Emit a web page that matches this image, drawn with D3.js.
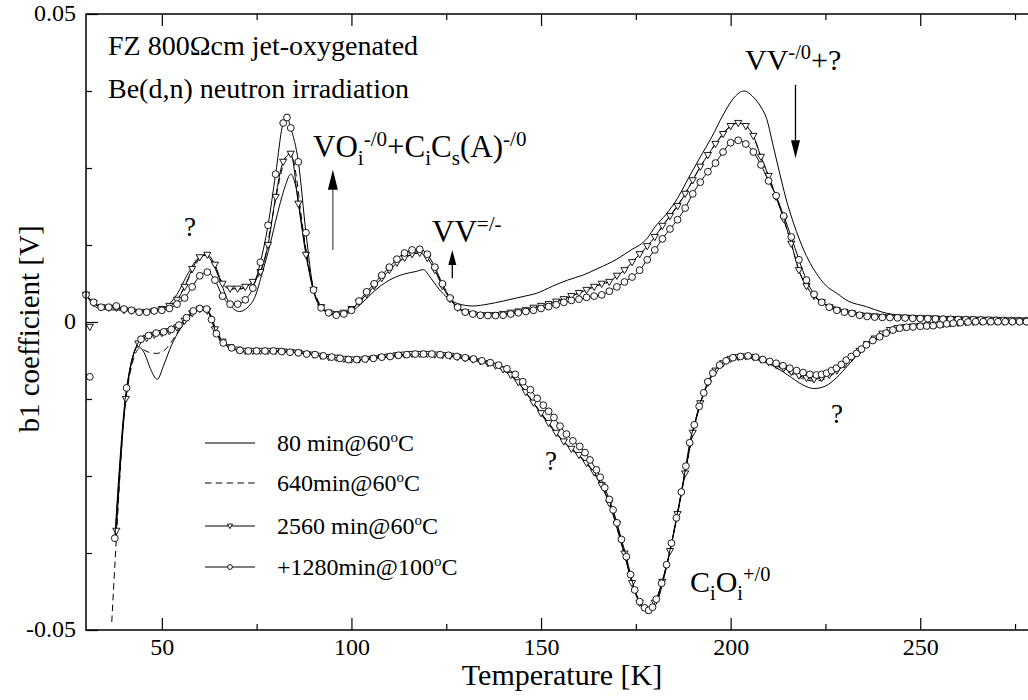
<!DOCTYPE html>
<html>
<head>
<meta charset="utf-8">
<script src="https://cdn.jsdelivr.net/npm/d3@7"></script>
<style>
  body { margin: 0; background: #fff; }
  svg { display: block; font-family: "Liberation Serif", "Times New Roman", serif; }
</style>
</head>
<body>
<svg id="chart" width="1028" height="700"></svg>
<script>
// values are in units of 1e-3 V (b1 coefficient), temperature in K
// +1280min@100C (circles)
var circUpper = [[30,4.4],[32,3.2],[34,2.4],[36,2.4],[38,2.6],[40,2.1],[42,1.9],[44,1.6],[46,1.6],[48,1.8],[50,1.9],[52,2.2],[54,2.9],[56,3.9],[58,5.7],[60,7.5],[62,8.1],[64,6.8],[66,4.2],[68,2.9],[70,2.9],[72,3.6],[74,5.5],[76,9.7],[78,15.7],[80,24.0],[82,32.3],[83,33.2],[84,31.5],[86,26.0],[88,14.5],[90,5.2],[92,2.3],[94,1.5],[96,1.1],[98,1.3],[100,1.9],[102,3.4],[104,4.9],[106,6.2],[108,7.6],[110,8.9],[112,10.2],[114,11.2],[116,11.7],[118,11.8],[120,11.0],[122,8.9],[124,6.2],[126,3.9],[128,2.4],[130,1.6],[132,1.3],[134,1.1],[136,1.05],[138,1.05],[140,1.1],[142,1.3],[144,1.5],[146,1.7],[148,1.9],[150,2.2],[152,2.5],[154,2.8],[156,3.2],[158,3.5],[160,3.7],[162,4.0],[164,4.2],[166,4.4],[168,5.0],[170,5.7],[172,6.5],[174,7.3],[176,8.4],[178,10.1],[180,11.7],[182,13.5],[184,15.1],[186,16.6],[188,18.5],[190,20.8],[192,22.7],[194,24.4],[196,25.8],[198,27.6],[200,29.1],[202,29.5],[204,28.9],[206,27.6],[208,25.5],[210,22.9],[212,20.5],[214,17.2],[216,13.8],[218,10.1],[220,6.8],[222,4.5],[224,3.2],[226,2.4],[228,1.9],[230,1.6],[232,1.4],[234,1.1],[236,0.9],[238,0.8],[240,0.75],[242,0.72],[244,0.68],[246,0.65],[248,0.6],[250,0.57],[252,0.54],[254,0.5],[256,0.46],[258,0.44],[260,0.4],[262,0.38],[264,0.36],[266,0.33],[268,0.3],[270,0.28],[272,0.26],[274,0.24],[276,0.22],[278,0.2],[280,0.2]];
var circLower = [[37.6,-35.1],[40.7,-10.7],[44.5,-2.8],[46.5,-2.2],[48.5,-1.8],[50.5,-1.6],[52.5,-1.2],[54.5,-0.5],[56.5,0.7],[58.3,1.8],[60,2.2],[61.8,2.1],[63.1,0.4],[64.4,-1.9],[66.2,-3.4],[68.4,-4.2],[70.6,-4.6],[72.8,-4.7],[75,-4.7],[77.2,-4.7],[79.4,-4.7],[81.6,-4.8],[83.8,-4.9],[86,-5.0],[88.2,-5.2],[90.4,-5.3],[92.6,-5.5],[94.8,-5.7],[97,-5.9],[99.2,-6.1],[101.4,-6.1],[103.6,-6.0],[105.8,-5.9],[108,-5.7],[110.2,-5.6],[112.4,-5.4],[114.6,-5.3],[116.8,-5.2],[119,-5.2],[121.2,-5.2],[123.4,-5.3],[125.6,-5.4],[127.8,-5.6],[130,-5.8],[132.2,-6.0],[134.4,-6.3],[136.6,-6.6],[138.8,-7.0],[141,-7.6],[143.2,-8.5],[145.2,-9.7],[147.2,-11.0],[149,-12.4],[150.6,-13.5],[152,-14.5],[153.4,-15.5],[155,-16.9],[156.7,-18.2],[158.4,-19.3],[160.2,-20.2],[161.6,-21.2],[162.9,-22.4],[164.6,-24.0],[165.6,-25.2],[166.8,-26.9],[168,-28.8],[169,-30.5],[170,-32.6],[171.2,-35.3],[172.5,-38.1],[173.6,-41.0],[174.7,-43.5],[176,-45.4],[177.3,-46.4],[178.4,-46.8],[179.4,-46.3],[180.4,-45.0],[181.8,-42.4],[183.1,-39.4],[184.4,-35.9],[185.7,-31.8],[187,-27.6],[188.2,-23.4],[189.2,-19.6],[190.4,-16.7],[191.7,-13.7],[192.9,-11.5],[194,-9.7],[195.3,-8.3],[197.1,-7.0],[198.8,-6.3],[200.6,-5.8],[202.6,-5.6],[204.6,-5.5],[206.6,-5.7],[208.5,-6.1],[210.3,-6.4],[212,-6.7],[213.8,-7.1],[215.6,-7.5],[217.4,-7.9],[219.1,-8.2],[220.9,-8.5],[222.6,-8.6],[224,-8.5],[225.3,-8.3],[226.6,-7.9],[227.9,-7.5],[229.2,-6.9],[230.5,-6.2],[231.8,-5.6],[233.2,-5.1],[234.5,-4.4],[235.8,-3.7],[237.5,-3.0],[239.3,-2.4],[241,-1.8],[242.8,-1.3],[244.6,-1.0],[246.4,-0.85],[248.1,-0.8],[250,-0.7],[251.7,-0.65],[253.4,-0.6],[255.2,-0.45],[257,-0.3],[258.7,-0.2],[260.6,-0.1],[262.6,0],[264.6,0.05],[266.6,0.05],[268.6,0.05],[270.5,0.05],[272.4,0.05],[274.3,0.05],[276.2,0.05],[278,0.05],[280,0.05]];

// 2560 min@60C (triangles)
var triUpper = [[30,4.4],[32,3.1],[34,2.4],[36,2.3],[38,2.3],[40,1.9],[42,1.8],[44,1.6],[46,1.6],[48,1.8],[50,2.1],[52,2.6],[54,3.6],[56,5.7],[58,8.6],[60,10.5],[62,10.9],[64,9.3],[66,6.2],[68,5.4],[70,5.4],[72,5.7],[74,6.5],[76,8.1],[78,12.5],[80,20.3],[82,26.0],[84,27.3],[86,19.2],[88,10.9],[90,5.2],[92,2.4],[94,1.5],[96,1.3],[98,1.5],[100,2.1],[102,3.2],[104,4.5],[106,5.8],[108,7.1],[110,8.4],[112,9.6],[114,10.4],[116,11.0],[118,11.2],[120,10.4],[122,8.4],[124,5.8],[126,3.7],[128,2.3],[130,1.6],[132,1.3],[134,1.1],[136,1.1],[138,1.1],[140,1.3],[142,1.5],[144,1.7],[146,1.9],[148,2.3],[150,2.6],[152,2.9],[154,3.3],[156,3.7],[158,4.2],[160,4.7],[162,5.2],[164,5.7],[166,6.2],[168,6.5],[170,7.5],[172,8.4],[174,9.7],[176,11.0],[178,12.3],[180,13.8],[182,15.6],[184,17.2],[186,18.8],[188,20.8],[190,23.0],[192,25.2],[194,27.1],[196,28.9],[198,30.5],[200,31.8],[202,32.3],[204,31.8],[206,30.2],[208,26.8],[210,23.7],[212,20.3],[214,16.7],[216,12.7],[218,8.4],[220,5.8],[222,4.2],[224,3.2],[226,2.4],[228,1.9],[230,1.6],[232,1.4],[234,1.1],[236,1.0],[238,0.9],[240,0.8],[242,0.75],[244,0.72],[246,0.7],[248,0.65],[250,0.62],[252,0.58],[254,0.55],[256,0.5],[258,0.47],[260,0.44],[262,0.42],[264,0.4],[266,0.37],[268,0.35],[270,0.33],[272,0.3],[274,0.28],[276,0.26],[278,0.25],[280,0.25]];
var triLower = [[38,-33.9],[40.5,-12.5],[43.8,-3.5],[46,-2.6],[48,-2.1],[50,-1.8],[52,-1.5],[54,-0.9],[56,0.2],[58,1.4],[60,2.1],[62,1.8],[64,-1.2],[66,-3.2],[68,-4.1],[70,-4.5],[72,-4.7],[74,-4.7],[76,-4.7],[78,-4.7],[80,-4.7],[82,-4.8],[84,-4.9],[86,-5.0],[88,-5.2],[90,-5.3],[92,-5.5],[94,-5.7],[96,-5.8],[98,-6.0],[100,-6.1],[102,-6.1],[104,-6.0],[106,-5.9],[108,-5.7],[110,-5.6],[112,-5.4],[114,-5.3],[116,-5.2],[118,-5.2],[120,-5.2],[122,-5.3],[124,-5.4],[126,-5.5],[128,-5.7],[130,-5.9],[132,-6.1],[134,-6.4],[136,-6.7],[138,-7.1],[140,-7.7],[142,-8.6],[144,-9.8],[146,-11.4],[148,-13.1],[150,-14.8],[152,-16.4],[154,-18.0],[156,-19.4],[158,-20.6],[160,-21.6],[162,-22.9],[164,-24.4],[166,-26.5],[168,-29.4],[170,-32.8],[172,-37.6],[174,-42.4],[176,-45.6],[178,-46.8],[180,-45.6],[182,-42.2],[184,-37.2],[186,-31.2],[188,-24.6],[190,-18.0],[192,-13.2],[194,-9.9],[196,-7.9],[198,-6.7],[200,-6.0],[202,-5.7],[204,-5.6],[206,-5.7],[208,-6.1],[210,-6.5],[212,-7.0],[214,-7.5],[216,-8.1],[218,-8.7],[220,-9.1],[222,-9.3],[224,-9.1],[226,-8.6],[228,-7.9],[230,-6.9],[232,-5.8],[234,-4.7],[236,-3.6],[238,-2.7],[240,-1.9],[242,-1.3],[244,-1.0],[246,-0.85],[248,-0.75],[250,-0.65],[252,-0.55],[254,-0.45],[256,-0.35],[258,-0.25],[260,-0.15],[262,-0.05],[264,0],[266,0.05],[268,0.05],[270,0.05],[272,0.05],[274,0.05],[276,0.05],[278,0.05],[280,0.05]];

// 80 min@60C (solid line)
var solidUpper = [[30,4.4],[33,2.3],[36,2.0],[40,1.9],[44,1.7],[48,1.8],[51,2.4],[54,4.5],[57,8.0],[59.5,10.3],[61.5,10.8],[63.5,9.5],[65.5,6.5],[68,2.8],[70.5,1.7],[72.5,2.3],[74.5,4.0],[76.5,8.0],[78.5,12.5],[80.5,17.6],[82.5,22.0],[84,24.0],[85.5,21.5],[87,15.5],[88.5,9.5],[90,5.0],[92,2.4],[94,1.5],[96,1.3],[98,1.3],[100,1.7],[103,3.2],[106,5.0],[110,6.8],[114,7.8],[117,8.2],[119,8.5],[120.5,7.5],[122.5,5.8],[125,4.1],[128,3.0],[132,2.6],[136,2.9],[140,3.4],[145,4.1],[149,4.7],[153,5.8],[157,6.8],[161,7.6],[165,8.7],[170,10.2],[174,11.8],[176,12.5],[178,13.6],[180,15.4],[183,17.5],[186,20.1],[189,23.5],[192,26.8],[195,30.0],[198,33.6],[201,36.5],[203.5,37.5],[206,36.5],[208,34.9],[209.5,33.0],[211,29.2],[212.1,26.3],[213.5,22.7],[214.7,19.8],[216.5,16.2],[218.2,13.3],[220.5,10.1],[222.6,7.9],[225,6.0],[227.9,4.7],[231,3.4],[235.8,2.5],[240,1.6],[244.6,1.1],[253.4,0.9],[265,0.5],[280,0.3]];
var solidLower = [[37.7,-34.6],[40.5,-12.5],[43.8,-4.0],[45.5,-5.2],[47,-7.6],[48.8,-9.3],[50.5,-7.0],[52.6,-3.7],[54.8,-1.2],[56.5,0.3],[58.5,1.6],[60.5,2.1],[62.3,1.6],[64,-1.0],[66,-3.2],[68.5,-4.3],[72,-4.7],[80,-4.7],[90,-5.3],[100,-6.2],[110,-5.7],[120,-5.3],[130,-6.0],[138,-7.2],[144,-9.9],[148,-13.2],[152,-16.6],[156,-19.5],[160,-21.8],[164,-24.6],[168,-29.5],[172,-37.8],[175,-44.2],[178,-47.0],[180.5,-45.5],[183,-40.0],[186,-31.0],[189,-21.0],[192,-13.3],[195,-8.8],[199,-6.5],[204,-5.8],[208,-6.3],[212,-7.4],[216,-9.0],[219,-10.2],[222,-10.8],[225,-10.4],[228,-9.0],[231,-7.0],[234,-4.9],[237,-3.0],[241,-1.6],[246,-0.9],[252,-0.5],[260,-0.1],[270,0.05],[280,0.05]];

// 640min@60C (dashed line)
var dashUpper = [[30,4.4],[34,2.4],[38,2.2],[42,1.8],[46,1.6],[50,2.1],[54,3.6],[57,7.0],[60,10.3],[61.5,11.0],[63,10.0],[65,7.5],[67,5.6],[70,5.3],[73,6.0],[75,7.3],[77,10.0],[79,16.5],[81,23.0],[83,27.2],[84,27.5],[85.5,23.5],[87,16.0],[88.5,10.0],[90,5.5],[92,2.6],[95,1.4],[98,1.4],[101,2.6],[105,5.2],[110,8.4],[114,10.4],[118,11.2],[120,10.4],[122,8.5],[124,5.9],[126,3.8],[129,1.9],[133,1.2],[138,1.15],[143,1.6],[148,2.3],[153,3.2],[158,4.2],[163,5.6],[168,6.6],[172,8.4],[176,11.0],[180,13.8],[184,17.2],[188,20.8],[192,25.2],[196,28.9],[199,31.3],[202,32.3],[204,31.9],[206,30.2],[208,26.8],[210,23.7],[212,20.3],[214,16.7],[216,12.7],[218,8.4],[220,5.8],[223,3.9],[227,2.6],[232,1.4],[238,0.9],[245,0.7],[255,0.5],[265,0.4],[280,0.25]];
var dashLower = [[36.8,-48.7],[37.7,-38.5],[40.5,-12.5],[44.2,-4.3],[46.5,-4.9],[48.6,-5.1],[51.2,-4.3],[53.4,-2.4],[55.5,-0.4],[58,1.3],[60.5,2.1],[62.5,1.5],[64.5,-1.5],[67,-3.7],[70,-4.5],[80,-4.7],[90,-5.3],[100,-6.1],[110,-5.6],[120,-5.2],[130,-5.9],[138,-7.1],[144,-9.8],[148,-13.1],[152,-16.4],[156,-19.4],[160,-21.6],[164,-24.4],[168,-29.3],[172,-37.6],[175,-44.0],[178,-46.9],[180.5,-45.4],[183,-39.8],[186,-31.1],[189,-21.2],[192,-13.2],[195,-8.7],[199,-6.4],[204,-5.7],[208,-6.2],[212,-7.1],[216,-8.4],[219,-9.2],[222,-9.6],[225,-9.2],[228,-8.0],[231,-6.4],[234,-4.7],[237,-3.0],[241,-1.6],[246,-0.9],[252,-0.5],[260,-0.1],[270,0.05],[280,0.05]];

// single stray points at the start of the lower branch
var triStray = [[31,-0.8]];
var circStray = [[31,-8.9]];

var legendLabels = ["80 min@60", "640min@60", "2560 min@60", "+1280min@100"];
var xTickValues = [50, 100, 150, 200, 250];
var xMinorTicks = [75, 125, 175, 225, 275];
var yTickValues = [-50, 0, 50];
var yTickLabels = ["-0.05", "0", "0.05"];
var yMinorTicks = [-37.5, -25, -12.5, 12.5, 25, 37.5];

var svg = d3.select("#chart");
var x = d3.scaleLinear().domain([30, 280]).range([86, 1034]);
var y = d3.scaleLinear().domain([-50, 50]).range([630, 14]);

var line = d3.line()
    .x(function(d) { return x(d[0]); })
    .y(function(d) { return y(d[1]); })
    .curve(d3.curveMonotoneX);

var triPath = "M-3.6,-2.6L3.6,-2.6L0,3.6Z";

function draw_axes() {
    var plot = svg.append("g");

    plot.append("g").attr("transform", "translate(0,630)")
        .call(d3.axisBottom(x).tickValues(xTickValues).tickSize(-12).tickPadding(8).tickFormat(d3.format("d")));
    plot.append("g").attr("transform", "translate(0,630)")
        .call(d3.axisBottom(x).tickValues(xMinorTicks).tickSize(-6).tickFormat(""));
    plot.append("g").attr("transform", "translate(0,14)")
        .call(d3.axisTop(x).tickValues(xTickValues).tickSize(-12).tickFormat(""));
    plot.append("g").attr("transform", "translate(0,14)")
        .call(d3.axisTop(x).tickValues(xMinorTicks).tickSize(-6).tickFormat(""));

    var left = plot.append("g").attr("transform", "translate(86,0)")
        .call(d3.axisLeft(y).tickValues(yTickValues).tickSize(-12).tickPadding(10)
            .tickFormat(function(d, i) { return yTickLabels[i]; }));
    plot.append("g").attr("transform", "translate(86,0)")
        .call(d3.axisLeft(y).tickValues(yMinorTicks).tickSize(-6).tickFormat(""));

    plot.selectAll(".domain").remove();
    plot.selectAll(".tick line").attr("stroke", "#000").attr("stroke-width", 1.2);
    plot.selectAll(".tick text")
        .style("font-family", "Liberation Serif, serif")
        .style("font-size", "24px")
        .attr("fill", "#000");
    left.selectAll(".tick text").attr("dy", "0.26em");

    plot.append("rect")
        .attr("x", 86).attr("y", 14)
        .attr("width", x(280) - 86).attr("height", 616)
        .attr("fill", "none").attr("stroke", "#000").attr("stroke-width", 1.5);

    svg.append("text")
        .attr("x", 562).attr("y", 685)
        .attr("text-anchor", "middle")
        .style("font-size", "30px")
        .text("Temperature [K]");

    svg.append("text")
        .attr("transform", "translate(39,329) rotate(-90)")
        .attr("text-anchor", "middle")
        .style("font-size", "29px")
        .text("b1 coefficient [V]");
}

function draw_series() {
    var g = svg.append("g");

    [solidUpper, solidLower].forEach(function(s) {
        g.append("path").attr("d", line(s))
            .attr("fill", "none").attr("stroke", "#000").attr("stroke-width", 1);
    });
    [dashUpper, dashLower].forEach(function(s) {
        g.append("path").attr("d", line(s))
            .attr("fill", "none").attr("stroke", "#000").attr("stroke-width", 1)
            .attr("stroke-dasharray", "6.5,4.3");
    });

    [triUpper, triLower].forEach(function(s) {
        g.append("path").attr("d", line(s))
            .attr("fill", "none").attr("stroke", "#000").attr("stroke-width", 1);
    });
    g.selectAll(".tri")
        .data(triUpper.concat(triLower, triStray))
        .enter().append("path")
        .attr("class", "tri")
        .attr("d", triPath)
        .attr("transform", function(d) { return "translate(" + x(d[0]) + "," + y(d[1]) + ")"; })
        .attr("fill", "#fff").attr("stroke", "#000").attr("stroke-width", 0.9);

    [circUpper, circLower].forEach(function(s) {
        g.append("path").attr("d", line(s))
            .attr("fill", "none").attr("stroke", "#000").attr("stroke-width", 1);
    });
    g.selectAll(".circ")
        .data(circUpper.concat(circLower, circStray))
        .enter().append("circle")
        .attr("class", "circ")
        .attr("cx", function(d) { return x(d[0]); })
        .attr("cy", function(d) { return y(d[1]); })
        .attr("r", 3.4)
        .attr("fill", "#fff").attr("stroke", "#000").attr("stroke-width", 0.9);
}

// text with sub/superscripts, parts: [text, kind] with kind "", "sub" or "sup"
function rich_text(px, py, size, parts) {
    var t = svg.append("text").attr("x", px).attr("y", py).style("font-size", size + "px");
    var shift = 0;
    parts.forEach(function(p) {
        var target = p[1] == "sup" ? -0.36 * size : (p[1] == "sub" ? 0.26 * size : 0);
        t.append("tspan")
            .attr("dy", target - shift)
            .style("font-size", (p[1] ? 0.68 * size : size) + "px")
            .text(p[0]);
        shift = target;
    });
    return t;
}

function arrow(t, v0, v1, head, w, colour) {
    var x0 = x(t), y0 = y(v0), y1 = y(v1);
    var dir = y1 < y0 ? 1 : -1;
    svg.append("line")
        .attr("x1", x0).attr("x2", x0)
        .attr("y1", y0).attr("y2", y1 + dir * head)
        .attr("stroke", colour).attr("stroke-width", 1.3);
    svg.append("path")
        .attr("d", "M" + x0 + "," + y1 + "L" + (x0 - w / 2) + "," + (y1 + dir * head) + "L" + (x0 + w / 2) + "," + (y1 + dir * head) + "Z")
        .attr("fill", "#000");
}

function draw_annotations() {
    svg.append("text").attr("x", 108).attr("y", 55).style("font-size", "28px")
        .text("FZ 800\u03A9cm jet-oxygenated");
    svg.append("text").attr("x", 108).attr("y", 98).style("font-size", "28px")
        .text("Be(d,n) neutron irradiation");

    rich_text(313, 157, 31, [["VO", ""], ["i", "sub"], ["-/0", "sup"], ["+C", ""], ["i", "sub"], ["C", ""], ["s", "sub"], ["(A)", ""], ["-/0", "sup"]]);
    rich_text(432, 242, 31, [["VV", ""], ["=/-", "sup"]]);
    rich_text(745, 70, 30, [["VV", ""], ["-/0", "sup"], ["+?", ""]]);
    rich_text(690, 592, 30, [["C", ""], ["i", "sub"], ["O", ""], ["i", "sub"], ["+/0", "sup"]]);

    [[190, 236], [551, 470], [837, 423]].forEach(function(p) {
        svg.append("text").attr("x", p[0]).attr("y", p[1])
            .attr("text-anchor", "middle").style("font-size", "27px").text("?");
    });

    arrow(95.1, 11.7, 24.7, 20, 10, "#555");
    arrow(126.6, 7.1, 11.7, 15, 8, "#000");
    arrow(217.1, 38.5, 26.6, 18, 9, "#000");
}

function draw_legend() {
    var rows = [443, 483, 526, 567];
    var g = svg.append("g");
    legendLabels.forEach(function(lab, i) {
        var ly = rows[i];
        var ln = g.append("line")
            .attr("x1", 205).attr("x2", 255).attr("y1", ly).attr("y2", ly)
            .attr("stroke", "#000").attr("stroke-width", 1);
        if (i == 1) ln.attr("stroke-dasharray", "6.5,4.3");
        if (i == 2) {
            g.append("path").attr("d", "M-2.6,-1.9L2.6,-1.9L0,2.6Z")
                .attr("transform", "translate(230," + ly + ")")
                .attr("fill", "#fff").attr("stroke", "#000").attr("stroke-width", 0.9);
        }
        if (i == 3) {
            g.append("circle").attr("cx", 230).attr("cy", ly).attr("r", 2.4)
                .attr("fill", "#fff").attr("stroke", "#000").attr("stroke-width", 0.9);
        }
        var t = g.append("text").attr("x", 277).attr("y", ly + 8).style("font-size", "24px");
        t.append("tspan").text(lab);
        t.append("tspan").attr("dy", -9).style("font-size", "15px").text("o");
        t.append("tspan").attr("dy", 9).text("C");
    });
}

draw_series();
draw_axes();
draw_annotations();
draw_legend();
</script>
</body>
</html>
